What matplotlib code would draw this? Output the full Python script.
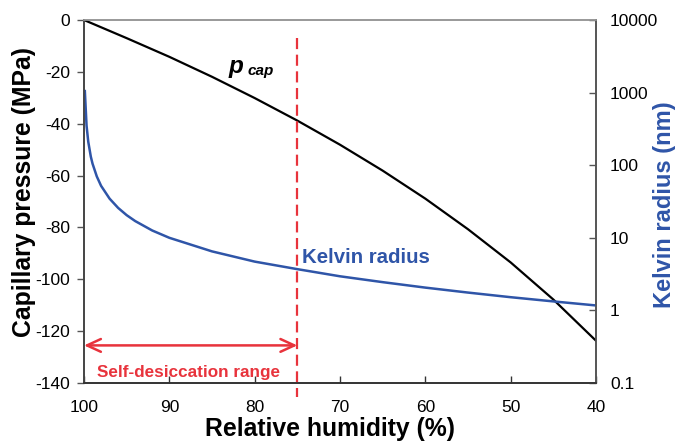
import matplotlib
matplotlib.use("Agg")
import matplotlib.pyplot as plt
import numpy as np

plt.rcParams['font.family'] = ['Liberation Sans', 'DejaVu Sans']

# Capillary pressure (black)
rh_p = [100, 95, 90, 85, 80, 75, 70, 65, 60, 55, 50, 45, 40]
p_cap = [0, -7.0, -14.2, -21.9, -30.1, -38.8, -48.1, -58.1, -68.9, -80.7, -93.5, -107.8, -123.7]

# Kelvin radius (blue), nm
rh_k = [99.9, 99.7, 99.5, 99.2, 99, 98.5, 98, 97, 96, 95, 94, 92, 90, 85, 80, 75, 70, 65, 60, 55, 50, 45, 40]
r_k = [1050, 350, 210, 131, 105, 70, 52, 34.6, 25.8, 20.5, 17.0, 12.6, 10.0, 6.5, 4.7, 3.7, 2.95, 2.45, 2.06, 1.76, 1.52, 1.33, 1.17]

x_ticks = [100, 90, 80, 70, 60, 50, 40]
y_ticks = [0, -20, -40, -60, -80, -100, -120, -140]
r_ticks = [0.1, 1, 10, 100, 1000, 10000]
r_labels = ['0.1', '1', '10', '100', '1000', '10000']

blue = '#2f55a8'
red = '#e8333c'

fig = plt.figure(figsize=(6.78, 4.46), dpi=100)
ax = fig.add_axes([84/678, 1-383/446, 512/678, 363/446])
ax2 = ax.twinx()

ax.plot(rh_p, p_cap, color='black', lw=1.6, zorder=3)
ax2.plot(rh_k, r_k, color=blue, lw=1.8)

ax.set_xlim(100, 40)
ax.set_ylim(-140, 0)
ax2.set_yscale('log')
ax2.set_ylim(0.1, 10000)

tfs = 12.5
ax.set_xticks(x_ticks)
ax.set_xticklabels([str(v) for v in x_ticks], fontsize=tfs)
ax.set_xticks(np.arange(40, 101, 2), minor=True)
ax.tick_params(axis='x', which='major', direction='in', length=5, width=1, pad=12, colors='#333333', labelcolor='black')
ax.tick_params(axis='x', which='minor', direction='in', length=3, width=0.8, colors='#333333')
ax.set_yticks(y_ticks)
ax.set_yticklabels([str(v) for v in y_ticks], fontsize=tfs)
ax.tick_params(axis='y', direction='out', length=5, width=1, pad=5, colors='#555555', labelcolor='black')

ax2.set_yticks(r_ticks)
ax2.set_yticklabels(r_labels, fontsize=tfs)
ax2.minorticks_off()
ax2.tick_params(axis='y', which='major', direction='in', length=5, width=1, pad=10, colors='#555555', labelcolor='black')

for a in (ax, ax2):
    a.spines['top'].set_color('#999999')
    a.spines['left'].set_color('#444444')
    a.spines['bottom'].set_color('#333333')
    a.spines['right'].set_color('#555555')
    for s in a.spines.values():
        s.set_linewidth(1.2)

lfs = 17.8
ax.set_xlabel('Relative humidity (%)', fontsize=lfs, fontweight='bold')
ax.xaxis.set_label_coords(0.48, -0.093)
ax.set_ylabel('Capillary pressure (MPa)', fontsize=lfs, fontweight='bold')
ax.yaxis.set_label_coords(-0.094, 0.526)
ax2.set_ylabel('Kelvin radius (nm)', fontsize=17, fontweight='bold', color=blue)
ax2.yaxis.set_label_coords(1.112, 0.49)

# dashed red line at 75% extending below axis
ax.plot([75, 75], [-7, -145.5], color=red, lw=1.6, ls=(0, (5, 2.5)), clip_on=False, zorder=4)
# double arrow
ax.annotate('', xy=(100, -125.5), xytext=(75, -125.5),
            arrowprops=dict(arrowstyle='<->,head_length=0.5,head_width=0.23', color=red, lw=1.8,
                            shrinkA=0, shrinkB=0, mutation_scale=20), annotation_clip=False)
ax.text(87.75, -136.1, 'Self-desiccation range', color=red, fontsize=12.3, fontweight='bold',
        ha='center', va='center')

ax.text(83.1, -20.6, 'p', fontsize=17.5, fontweight='bold', style='italic', ha='left', va='baseline')
ax.text(80.8, -21.4, 'cap', fontsize=11, fontweight='bold', style='italic', ha='left', va='baseline')
ax.text(74.4, -91.5, 'Kelvin radius', color=blue, fontsize=14.7, fontweight='bold', ha='left', va='center')

fig.savefig('out.png', dpi=100)
